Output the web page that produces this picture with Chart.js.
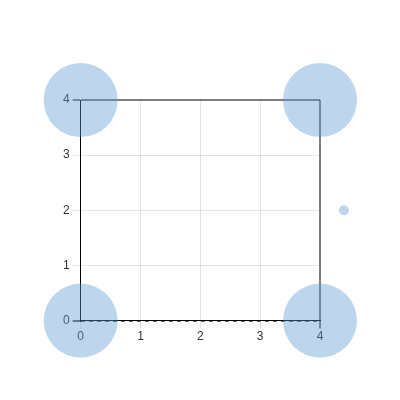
<!DOCTYPE html>
<html>
<head>
<meta charset="utf-8">
<script src="https://cdn.jsdelivr.net/npm/chart.js@4"></script>
<style>
  body { margin: 0; }
  #wrap { width: 400px; height: 400px; }
</style>
</head>
<body>
<div id="wrap"><canvas id="bubbleChart" width="400" height="400"></canvas></div>
<script>
// bubble data
const xValues = [0, 0, 4, 4, 4.4];
const yValues = [0, 4, 0, 4, 2];
const radii = [37, 37, 37, 37, 5];
const tickValues = [0, 1, 2, 3, 4];

const points = xValues.map((x, i) => ({ x: x, y: yValues[i], r: radii[i] }));

const ctx = document.getElementById('bubbleChart').getContext('2d');
new Chart(ctx, {
  type: 'bubble',
  data: {
    datasets: [{
      data: points,
      backgroundColor: 'rgba(90, 150, 210, 0.4)',
      borderWidth: 0,
      hoverRadius: 40,
      clip: false
    }]
  },
  options: {
    responsive: false,
    animation: false,
    layout: { padding: { left: 60, right: 80, top: 100, bottom: 55 } },
    plugins: { legend: { display: false }, tooltip: { enabled: false } },
    scales: {
      x: {
        type: 'linear',
        min: tickValues[0],
        max: tickValues[tickValues.length - 1],
        ticks: { stepSize: 1, padding: 1, color: '#333', font: { family: 'Liberation Sans', size: 12 } },
        grid: {
          color: c => c.tick && c.tick.value === 4 ? 'rgba(0,0,0,0.5)' : 'rgba(0,0,0,0.1)',
          lineWidth: c => c.tick && c.tick.value === 4 ? 2 : 1
        },
        border: { color: '#000' }
      },
      y: {
        type: 'linear',
        min: tickValues[0],
        max: tickValues[tickValues.length - 1],
        ticks: { stepSize: 1, color: '#333', font: { family: 'Liberation Sans', size: 12 } },
        grid: {
          color: c => {
            if (!c.tick) return 'rgba(0,0,0,0.1)';
            if (c.tick.value === 4) return 'rgba(0,0,0,0.5)';
            if (c.tick.value === 0) return 'rgba(0,0,0,0.6)';
            return 'rgba(0,0,0,0.1)';
          },
          lineWidth: c => c.tick && (c.tick.value === 4 || c.tick.value === 0) ? 2 : 1
        },
        border: {
          color: '#000',
          dash: c => c.tick && c.tick.value === 0 ? [4, 4] : []
        }
      }
    }
  }
});
</script>
</body>
</html>
